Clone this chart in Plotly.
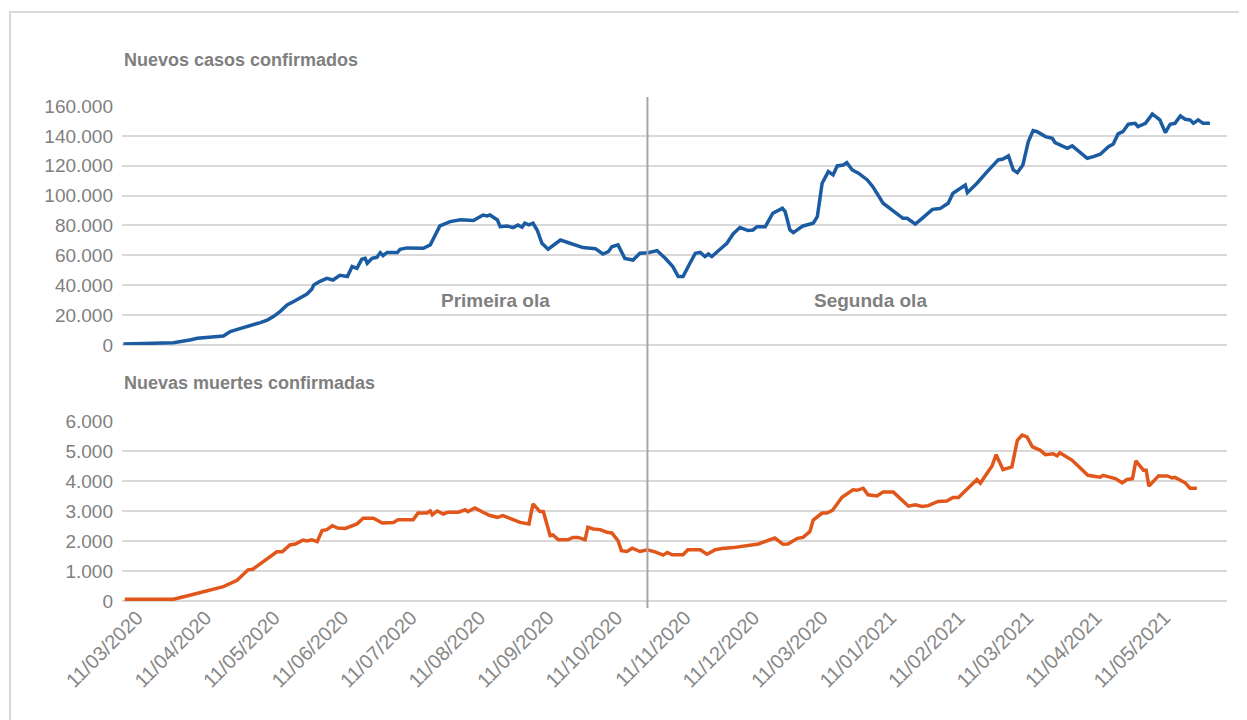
import plotly.graph_objects as go

# x positions are in "month index" units: 0 = 11/03/2020, 1 = next label, ...
tick_labels = ["11/03/2020", "11/04/2020", "11/05/2020", "11/06/2020", "11/07/2020",
               "11/08/2020", "11/09/2020", "11/10/2020", "11/11/2020", "11/12/2020",
               "11/03/2020", "11/01/2021", "11/02/2021", "11/03/2021", "11/04/2021",
               "11/05/2021"]
tick_positions = list(range(len(tick_labels)))

cases_x = [-0.20, 0.53, 0.77, 0.88, 1.26, 1.31, 1.36, 1.50, 1.61, 1.69, 1.80, 1.90, 1.99,
           2.09, 2.19, 2.28, 2.38, 2.48, 2.55, 2.58, 2.67, 2.77, 2.86, 2.96, 3.07, 3.11,
           3.14, 3.21, 3.28, 3.33, 3.36, 3.43, 3.50, 3.55, 3.59, 3.65, 3.80, 3.84, 3.94,
           4.18, 4.28, 4.42, 4.57, 4.72, 4.91, 5.05, 5.11, 5.15, 5.26, 5.30, 5.40, 5.49,
           5.56, 5.62, 5.66, 5.72, 5.78, 5.84, 5.91, 6.00, 6.18, 6.32, 6.51, 6.69, 6.80,
           6.88, 6.93, 7.02, 7.12, 7.24, 7.34, 7.46, 7.59, 7.71, 7.82, 7.90, 7.97, 8.07,
           8.15, 8.22, 8.29, 8.34, 8.39, 8.51, 8.61, 8.70, 8.80, 8.92, 8.99, 9.05, 9.17,
           9.28, 9.42, 9.46, 9.53, 9.58, 9.72, 9.87, 9.93, 10.00, 10.09, 10.16, 10.22,
           10.31, 10.36, 10.44, 10.53, 10.66, 10.74, 10.89, 11.09, 11.18, 11.24, 11.36,
           11.46, 11.61, 11.72, 11.84, 11.91, 12.04, 12.09, 12.12, 12.26, 12.41, 12.57,
           12.64, 12.72, 12.79, 12.85, 12.93, 13.01, 13.08, 13.14, 13.26, 13.36, 13.40,
           13.47, 13.58, 13.65, 13.87, 13.96, 14.06, 14.18, 14.25, 14.32, 14.39, 14.47,
           14.57, 14.61, 14.72, 14.82, 14.93, 15.01, 15.08, 15.15, 15.23, 15.30, 15.37,
           15.42, 15.49, 15.56, 15.66]
cases_y = [700, 1500, 3300, 4500, 6000, 7800, 9000, 11000, 12300, 13600, 15000, 16700, 19000,
           22500, 26800, 29000, 31700, 34100, 37300, 40200, 42600, 44600, 43500, 46600, 45800,
           49100, 52500, 51300, 57400, 58000, 54700, 58000, 58700, 61800, 59800, 62000, 62000,
           64000, 65000, 64700, 67000, 79700, 82600, 83900, 83300, 87000, 86400, 87000, 83700,
           79200, 79700, 78600, 80400, 78800, 81500, 80400, 81500, 77000, 68100, 64100, 70300,
           68100, 65200, 64500, 60900, 62500, 65800, 67000, 58000, 56900, 61400, 61800, 63200,
           58000, 52500, 45800, 45800, 54700, 61400, 62000, 59200, 60900, 59200, 64100, 68100,
           74300, 78600, 76600, 77000, 79200, 79200, 88200, 91500, 89300, 77000, 75200, 79700,
           81500, 85900, 108300, 116100, 113900, 119900, 120500, 122100, 117200, 115000,
           110500, 106000, 94900, 88200, 84800, 84800, 81000, 84800, 90800, 91300, 94900,
           101600, 106000, 107100, 102000, 108300, 116100, 123900, 124500, 126600, 117200,
           115400, 120500, 136200, 143500, 142800, 139500, 138400, 135500, 133900, 131700,
           133300, 125000, 126100, 127700, 132800, 134600, 141300, 142800, 147800, 148400,
           146200, 148400, 154700, 150700, 142200, 147800, 148400, 153300, 151100, 150700,
           148400, 150700, 148400, 148400]

deaths_x = [-0.18, 0.53, 0.77, 1.26, 1.46, 1.62, 1.69, 2.04, 2.12, 2.23, 2.31, 2.42, 2.48,
            2.55, 2.63, 2.70, 2.77, 2.85, 2.93, 3.04, 3.21, 3.30, 3.45, 3.58, 3.74, 3.81,
            4.03, 4.10, 4.23, 4.28, 4.31, 4.38, 4.47, 4.54, 4.69, 4.79, 4.83, 4.93, 5.05,
            5.15, 5.26, 5.34, 5.59, 5.72, 5.78, 5.88, 5.93, 6.03, 6.07, 6.15, 6.29, 6.36,
            6.44, 6.54, 6.58, 6.66, 6.76, 6.86, 6.93, 7.02, 7.07, 7.15, 7.23, 7.34, 7.45,
            7.56, 7.68, 7.74, 7.81, 7.97, 8.04, 8.22, 8.32, 8.44, 8.54, 8.70, 9.07, 9.31,
            9.43, 9.50, 9.64, 9.72, 9.82, 9.87, 10.00, 10.07, 10.15, 10.29, 10.45, 10.51,
            10.60, 10.67, 10.80, 10.89, 11.04, 11.26, 11.36, 11.46, 11.55, 11.69, 11.82,
            11.91, 11.99, 12.26, 12.31, 12.48, 12.54, 12.64, 12.77, 12.85, 12.92, 12.99,
            13.07, 13.18, 13.26, 13.37, 13.43, 13.47, 13.65, 13.80, 13.88, 14.06, 14.10,
            14.28, 14.38, 14.45, 14.53, 14.58, 14.69, 14.73, 14.77, 14.91, 15.04, 15.11,
            15.15, 15.30, 15.37, 15.47]
deaths_y = [56, 56, 190, 480, 690, 1040, 1060, 1640, 1640, 1870, 1900, 2030, 2000, 2040, 1980,
            2350, 2380, 2510, 2430, 2420, 2570, 2760, 2760, 2600, 2620, 2710, 2710, 2930, 2930,
            3000, 2870, 3000, 2900, 2960, 2960, 3040, 2980, 3100, 2960, 2850, 2790, 2850, 2620,
            2570, 3240, 2980, 2980, 2180, 2200, 2040, 2040, 2120, 2120, 2040, 2460, 2400, 2380,
            2290, 2270, 2010, 1680, 1650, 1760, 1650, 1710, 1640, 1530, 1620, 1540, 1540, 1710,
            1710, 1560, 1710, 1750, 1780, 1900, 2100, 1890, 1900, 2090, 2120, 2310, 2700, 2930,
            2930, 3020, 3460, 3710, 3690, 3760, 3540, 3500, 3630, 3630, 3160, 3210, 3150, 3180,
            3320, 3330, 3450, 3450, 4050, 3930, 4500, 4880, 4380, 4470, 5360, 5530, 5470, 5140,
            5030, 4880, 4910, 4840, 4940, 4690, 4360, 4190, 4130, 4190, 4080, 3940, 4050, 4080,
            4670, 4360, 4360, 3830, 4170, 4170, 4100, 4120, 3940, 3760, 3760]

wave_split = 7.45
wave_labels = ["Primeira ola", "Segunda ola"]
wave_label_x = [5.23, 10.70]
wave_label_y = [30000, 30000]

panel_titles = ["Nuevos casos confirmados", "Nuevas muertes confirmadas"]

GRAY = "#7f7f7f"
GRID = "#d9d9d9"
FONT = "Liberation Sans"

fig = go.Figure()
fig.add_trace(go.Scatter(x=cases_x, y=cases_y, mode="lines", xaxis="x", yaxis="y",
                         line=dict(color="#1b5ba1", width=3.5), showlegend=False))
fig.add_trace(go.Scatter(x=deaths_x, y=deaths_y, mode="lines", xaxis="x", yaxis="y2",
                         line=dict(color="#e1561b", width=3.5), showlegend=False))

ytick_font = dict(family=FONT, size=19, color=GRAY)
fig.update_layout(
    width=1239, height=712,
    margin=dict(l=114, r=20, t=98, b=119, autoexpand=False),
    paper_bgcolor="white", plot_bgcolor="white",
    separators=",.",
    font=dict(family=FONT, color=GRAY),
    xaxis=dict(range=[-0.22, 15.91], anchor="y2", tickmode="array",
               tickvals=tick_positions, ticktext=tick_labels, tickangle=-45,
               tickfont=dict(family=FONT, size=20, color="#878787"), showgrid=False,
               zeroline=False, showline=False, ticks="", automargin=False),
    yaxis=dict(domain=[0.5172, 1.0], range=[0, 160000], tickmode="linear", tick0=0,
               dtick=20000, tickformat=",.0f", tickfont=ytick_font, gridcolor=GRID,
               gridwidth=1.5, zeroline=True, zerolinecolor=GRID, zerolinewidth=1.5,
               showline=False, ticks="", ticklabelstandoff=8, automargin=False, anchor="x"),
    yaxis2=dict(domain=[0.0, 0.3636], range=[0, 6000], tickmode="linear", tick0=0,
                dtick=1000, tickformat=",.0f", tickfont=ytick_font, gridcolor=GRID,
                gridwidth=1.5, zeroline=True, zerolinecolor=GRID, zerolinewidth=1.5,
                showline=False, ticks="", ticklabelstandoff=8, automargin=False, anchor="x"),
)

fig.add_shape(type="line", xref="x", yref="paper", x0=wave_split, x1=wave_split,
              y0=-0.014, y1=1.018, line=dict(color="#a6a6a6", width=2))
fig.add_shape(type="rect", xref="paper", yref="paper", x0=-0.1014, x1=1.08,
              y0=-0.35, y1=1.19, line=dict(color=GRID, width=2), layer="below")

for txt, xx, yy in zip(wave_labels, wave_label_x, wave_label_y):
    fig.add_annotation(text="<b>" + txt + "</b>", x=xx, y=yy, xref="x", yref="y",
                       showarrow=False, font=dict(family=FONT, size=19, color=GRAY))

fig.add_annotation(text="<b>" + panel_titles[0] + "</b>", xref="paper", yref="paper",
                   x=0.0, y=1.093, xanchor="left", yanchor="middle", showarrow=False,
                   font=dict(family=FONT, size=18, color=GRAY))
fig.add_annotation(text="<b>" + panel_titles[1] + "</b>", xref="paper", yref="paper",
                   x=0.0, y=0.440, xanchor="left", yanchor="middle", showarrow=False,
                   font=dict(family=FONT, size=18, color=GRAY))

fig.write_html("out.html")
